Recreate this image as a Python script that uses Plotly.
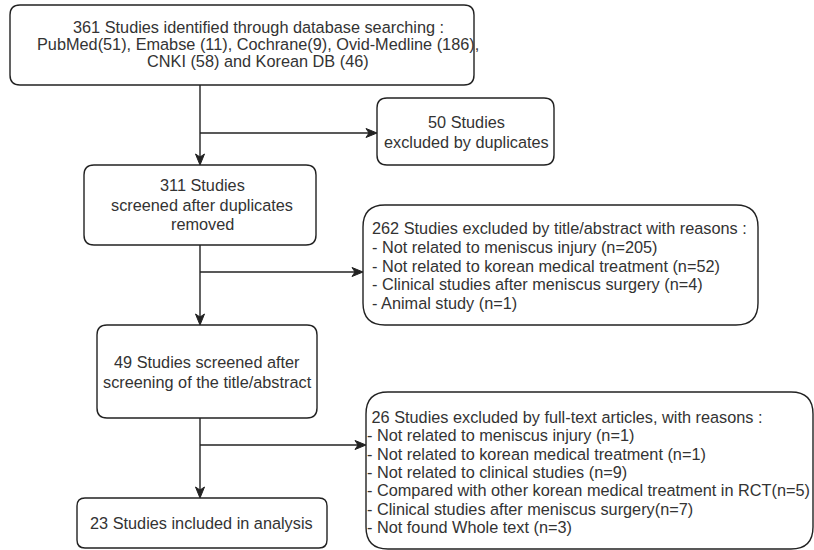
import plotly.graph_objects as go

# ---- chart content (texts of the flow boxes) ----
identified_lines = [
    "361 Studies identified through database searching :",
    "PubMed(51), Emabse (11), Cochrane(9), Ovid-Medline (186),",
    "CNKI (58) and Korean DB (46)",
]
duplicates_lines = ["50 Studies", "excluded by duplicates"]
screened_lines = ["311 Studies", "screened after duplicates", "removed"]
excluded_ta_lines = [
    "262 Studies excluded by title/abstract with reasons :",
    "- Not related to meniscus injury (n=205)",
    "- Not related to korean medical treatment (n=52)",
    "- Clinical studies after meniscus surgery (n=4)",
    "- Animal study (n=1)",
]
eligible_lines = ["49 Studies screened after", "screening of the title/abstract"]
excluded_ft_lines = [
    "\u00a026 Studies excluded by full-text articles, with reasons :",
    "- Not related to meniscus injury (n=1)",
    "- Not related to korean medical treatment (n=1)",
    "- Not related to clinical studies (n=9)",
    "- Compared with other korean medical treatment in RCT(n=5)",
    "- Clinical studies after meniscus surgery(n=7)",
    "- Not found Whole text (n=3)",
]
included_lines = ["23 Studies included in analysis"]

# ---- layout geometry (pixels, y downward) ----
boxes = [
    dict(lines=identified_lines, box=(10, 5, 474, 85), r=10, align="center", tx=258, ty=27, dy=17),
    dict(lines=duplicates_lines, box=(377, 98, 554, 165), r=10, align="center", tx=466, ty=122, dy=20),
    dict(lines=screened_lines, box=(84, 165, 316, 245), r=10, align="center", tx=202, ty=185, dy=19.5),
    dict(lines=excluded_ta_lines, box=(363, 205, 758, 325), r=22, align="left", tx=370, ty=228, dy=18.8),
    dict(lines=eligible_lines, box=(97, 325, 317, 418), r=10, align="center", tx=207, ty=362, dy=20),
    dict(lines=excluded_ft_lines, box=(366, 392, 813, 549), r=22, align="left", tx=365, ty=417, dy=18.3),
    dict(lines=included_lines, box=(77, 498, 327, 548), r=8, align="center", tx=201, ty=523, dy=18),
]

# connectors: (x0, y0, x1, y1, has_arrow)
connectors = [
    (200, 85, 200, 165, True),
    (200, 133, 377, 133, True),
    (200, 245, 200, 325, True),
    (200, 272, 363, 272, True),
    (200, 418, 200, 498, True),
    (200, 445, 366, 445, True),
]

LINE_COLOR = "#222222"
TEXT_COLOR = "#333333"
FONT = "Liberation Sans, Arial, sans-serif"
FSIZE = 16.3


def rounded_rect(x0, y0, x1, y1, r):
    return (
        f"M {x0 + r},{y0} L {x1 - r},{y0} Q {x1},{y0} {x1},{y0 + r} "
        f"L {x1},{y1 - r} Q {x1},{y1} {x1 - r},{y1} "
        f"L {x0 + r},{y1} Q {x0},{y1} {x0},{y1 - r} "
        f"L {x0},{y0 + r} Q {x0},{y0} {x0 + r},{y0} Z"
    )


def arrow_head(x0, y0, x1, y1, length=11, half=4.5, notch=8):
    dx, dy = x1 - x0, y1 - y0
    n = (dx * dx + dy * dy) ** 0.5
    ux, uy = dx / n, dy / n
    px, py = -uy, ux
    bx, by = x1 - ux * length, y1 - uy * length
    nx, ny = x1 - ux * notch, y1 - uy * notch
    return (
        f"M {x1},{y1} L {bx + px * half},{by + py * half} "
        f"L {nx},{ny} L {bx - px * half},{by - py * half} Z"
    )


shapes = []
annotations = []

for b in boxes:
    x0, y0, x1, y1 = b["box"]
    shapes.append(dict(type="path", path=rounded_rect(x0, y0, x1, y1, b["r"]),
                       xref="x", yref="y", line=dict(color=LINE_COLOR, width=1.4),
                       fillcolor="white", layer="below"))
    for i, t in enumerate(b["lines"]):
        annotations.append(dict(
            x=b["tx"], y=b["ty"] + i * b["dy"], xref="x", yref="y",
            text=t, showarrow=False,
            xanchor="left" if b["align"] == "left" else "center",
            yanchor="middle",
            font=dict(family=FONT, size=FSIZE, color=TEXT_COLOR),
        ))

for (x0, y0, x1, y1, has_arrow) in connectors:
    dx, dy = x1 - x0, y1 - y0
    n = (dx * dx + dy * dy) ** 0.5
    ex, ey = x1 - dx / n * 8, y1 - dy / n * 8
    shapes.append(dict(type="line", x0=x0, y0=y0, x1=ex, y1=ey, xref="x", yref="y",
                       line=dict(color=LINE_COLOR, width=1.4)))
    if has_arrow:
        shapes.append(dict(type="path", path=arrow_head(x0, y0, x1, y1), xref="x", yref="y",
                           line=dict(color=LINE_COLOR, width=1), fillcolor=LINE_COLOR))

fig = go.Figure()
fig.update_layout(
    width=814, height=550,
    margin=dict(l=0, r=0, t=0, b=0),
    paper_bgcolor="white", plot_bgcolor="white",
    xaxis=dict(range=[0, 814], visible=False, fixedrange=True),
    yaxis=dict(range=[550, 0], visible=False, fixedrange=True),
    shapes=shapes, annotations=annotations, showlegend=False,
)
fig.write_html(
    "out.html",
    config=dict(displayModeBar=False, staticPlot=True),
    post_script="document.body.style.margin='0';document.body.style.overflow='hidden';",
)
